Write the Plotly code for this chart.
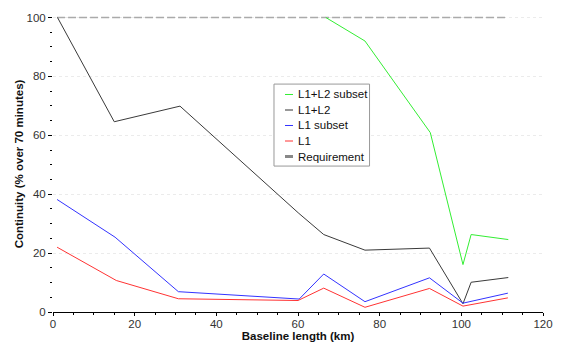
import plotly.graph_objects as go

# ---- data ----
x_black = [1.1, 15.0, 31.1, 60.2, 66.3, 76.4, 92.2, 100.4, 102.4, 111.5]
y_black = [100, 64.6, 69.9, 33.5, 26.3, 21.0, 21.7, 2.8, 10.1, 11.7]

x_green = [66.8, 76.4, 92.4, 100.4, 102.4, 111.5]
y_green = [100, 92.0, 60.9, 16.1, 26.3, 24.6]

x_blue = [1.0, 15.2, 30.7, 60.3, 66.3, 76.4, 92.2, 100.4, 111.4]
y_blue = [38.2, 25.4, 6.9, 4.4, 12.9, 3.5, 11.6, 3.0, 6.4]

x_red = [1.0, 15.5, 30.7, 60.0, 66.3, 76.4, 92.2, 100.4, 111.4]
y_red = [22.0, 10.7, 4.5, 3.9, 8.1, 1.6, 8.0, 2.0, 4.8]

x_req = [1.0, 111.0]
y_req = [100, 100]

legend_names = ["L1+L2 subset", "L1+L2", "L1 subset", "L1", "Requirement"]
legend_colors = ["#33ee33", "#333333", "#3333ff", "#ff3333", "#999999"]
legend_widths = [1, 1, 1, 1, 3]

FONT = "Liberation Sans, Arial, Helvetica, sans-serif"

fig = go.Figure()
fig.add_trace(go.Scatter(x=x_req, y=y_req, mode="lines",
                         line=dict(color="#aaaaaa", width=1.5, dash="8px,3px"),
                         showlegend=False, hoverinfo="skip"))
fig.add_trace(go.Scatter(x=x_black, y=y_black, mode="lines",
                         line=dict(color="#3a3a3a", width=1), showlegend=False))
fig.add_trace(go.Scatter(x=x_green, y=y_green, mode="lines",
                         line=dict(color="#33ee33", width=1), showlegend=False))
fig.add_trace(go.Scatter(x=x_blue, y=y_blue, mode="lines",
                         line=dict(color="#3333ff", width=1), showlegend=False))
fig.add_trace(go.Scatter(x=x_red, y=y_red, mode="lines",
                         line=dict(color="#ff3333", width=1), showlegend=False))

# ---- manual legend box ----
shapes = [dict(type="rect", xref="paper", yref="paper",
               x0=0.451, x1=0.646, y0=0.493, y1=0.770,
               line=dict(color="#999999", width=1), fillcolor="white", layer="above")]
annotations = []
ys = [0.7348, 0.6824, 0.6301, 0.5777, 0.5253]
for name, col, w, yy in zip(legend_names, legend_colors, legend_widths, ys):
    shapes.append(dict(type="line", xref="paper", yref="paper",
                       x0=0.4735, x1=0.4898, y0=yy, y1=yy,
                       line=dict(color=col if w == 1 else "#888888", width=w), layer="above"))
    annotations.append(dict(xref="paper", yref="paper", x=0.4959, y=yy,
                            text=name, showarrow=False, xanchor="left", yanchor="middle",
                            font=dict(family=FONT, size=11.5, color="#111111")))

fig.update_layout(
    width=561, height=343,
    margin=dict(l=53, r=18, t=16, b=31, autoexpand=False),
    paper_bgcolor="white", plot_bgcolor="white",
    font=dict(family=FONT, size=11, color="#222222"),
    shapes=shapes, annotations=annotations,
    showlegend=False,
)
fig.update_xaxes(
    range=[0, 120], dtick=20, tick0=0, automargin=False,
    showline=True, linecolor="black", linewidth=1,
    ticks="outside", ticklen=3, tickcolor="black",
    minor=dict(dtick=5, ticks="outside", ticklen=2, tickcolor="black", showgrid=False),
    showgrid=False, zeroline=False, ticklabelstandoff=-2,
    title=dict(text="<b>Baseline length (km)</b>", standoff=0,
               font=dict(family=FONT, size=11.5, color="#111111")),
    tickfont=dict(family=FONT, size=11.5, color="#333333"),
)
fig.update_yaxes(
    range=[0, 100.5], dtick=20, tick0=0, automargin=False,
    showline=False,
    ticks="outside", ticklen=4, tickcolor="black",
    minor=dict(dtick=5, ticks="outside", ticklen=2, tickcolor="black", showgrid=False),
    showgrid=True, gridcolor="#ebebeb", griddash="dot", gridwidth=1, zeroline=False,
    title=dict(text="<b>Continuity (% over 70 minutes)</b>", standoff=0,
               font=dict(family=FONT, size=11.5, color="#111111")),
    tickfont=dict(family=FONT, size=11.5, color="#333333"),
)

fig.write_html("out.html", config={"displayModeBar": False},
               post_script="document.body.style.margin='0px';document.body.style.overflow='hidden';")
